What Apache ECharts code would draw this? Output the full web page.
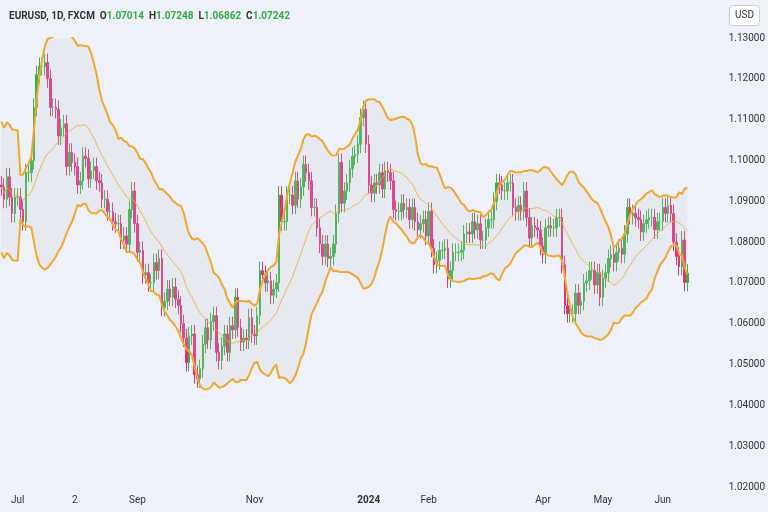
<!DOCTYPE html>
<html>
<head>
<meta charset="utf-8">
<script src="https://cdn.jsdelivr.net/npm/echarts@6/dist/echarts.min.js"></script>
<style>
    html, body {margin: 0; padding: 0; background: #eef1f8;}
    #chart {width: 768px; height: 512px;}
</style>
</head>
<body>
<div id="chart"></div>
<script>
// month blocks: [label shown on axis ('' = none), trading days]
const monthLabels = ['', 'Jul', '2', 'Sep', '', 'Nov', '', '2024', 'Feb', '', 'Apr', 'May', 'Jun'];
const monthDays = [6, 21, 23, 21, 22, 22, 20, 22, 21, 21, 22, 22, 10];

// daily closes
const closes = [
    1.0935, 1.0905, 1.0960, 1.0910, 1.0870, 1.0910,
    1.0910, 1.0880, 1.0850, 1.0970, 1.0970, 1.1000, 1.1130, 1.1210, 1.1230, 1.1230, 1.1240, 1.1200, 1.1130, 1.1130, 1.1125, 1.1060, 1.1080, 1.1090, 1.0985, 1.1020, 1.0995,
    1.0985, 1.0940, 1.0950, 1.1010, 1.1005, 1.0955, 1.0975, 1.0985, 1.0950, 1.0945, 1.0905, 1.0905, 1.0875, 1.0875, 1.0850, 1.0845, 1.0845, 1.0805, 1.0815, 1.0795, 1.0880, 1.0925, 1.0845,
    1.0775, 1.0780, 1.0720, 1.0725, 1.0700, 1.0700, 1.0750, 1.0730, 1.0760, 1.0640, 1.0655, 1.0685, 1.0665, 1.0690, 1.0660, 1.0645, 1.0600, 1.0565, 1.0505, 1.0570, 1.0575,
    1.0475, 1.0465, 1.0490, 1.0550, 1.0590, 1.0560, 1.0605, 1.0620, 1.0530, 1.0510, 1.0545, 1.0575, 1.0530, 1.0595, 1.0585, 1.0665, 1.0590, 1.0555, 1.0565, 1.0560, 1.0615, 1.0575,
    1.0570, 1.0620, 1.0730, 1.0720, 1.0700, 1.0705, 1.0670, 1.0685, 1.0700, 1.0915, 1.0850, 1.0850, 1.0915, 1.0915, 1.0890, 1.0950, 1.0905, 1.0935, 1.0990, 1.0970, 1.0950, 1.0885,
    1.0885, 1.0835, 1.0795, 1.0765, 1.0795, 1.0760, 1.0765, 1.0795, 1.0870, 1.0995, 1.0895, 1.0925, 1.0945, 1.0980, 1.1010, 1.1015, 1.1040, 1.1105, 1.1125, 1.1040,
    1.0940, 1.0920, 1.0945, 1.0940, 1.0970, 1.0930, 1.0975, 1.0970, 1.0950, 1.0880, 1.0875, 1.0875, 1.0895, 1.0880, 1.0885, 1.0855, 1.0885, 1.0850, 1.0830, 1.0845, 1.0855, 1.0815,
    1.0875, 1.0785, 1.0745, 1.0755, 1.0780, 1.0780, 1.0785, 1.0710, 1.0730, 1.0775, 1.0775, 1.0775, 1.0780, 1.0820, 1.0825, 1.0820, 1.0850, 1.0830, 1.0845, 1.0805, 1.0805,
    1.0835, 1.0855, 1.0855, 1.0900, 1.0945, 1.0940, 1.0925, 1.0925, 1.0945, 1.0945, 1.0885, 1.0875, 1.0890, 1.0875, 1.0925, 1.0860, 1.0810, 1.0840, 1.0835, 1.0830, 1.0790,
    1.0770, 1.0835, 1.0840, 1.0835, 1.0835, 1.0860, 1.0860, 1.0745, 1.0645, 1.0625, 1.0625, 1.0625, 1.0675, 1.0645, 1.0655, 1.0700, 1.0705, 1.0730, 1.0730, 1.0695, 1.0725, 1.0665,
    1.0710, 1.0725, 1.0760, 1.0770, 1.0750, 1.0775, 1.0785, 1.0770, 1.0820, 1.0885, 1.0865, 1.0870, 1.0860, 1.0855, 1.0825, 1.0845, 1.0855, 1.0860, 1.0860, 1.0830, 1.0850, 1.0850,
    1.0885, 1.0870, 1.0890, 1.0870, 1.0800, 1.0765, 1.0740, 1.0805, 1.0701, 1.0724
];
const firstOpen = 1.0940;
const wick = 0.0022;

const yTicks = [1.02, 1.13, 0.01];

// categories + axis label positions
const cats = [];
const labelAt = {};
monthDays.forEach(function (n, m) {
    for (let d = 0; d < n; d++) {
        if (d === 0 && monthLabels[m]) labelAt[cats.length] = monthLabels[m];
        cats.push(m + '-' + d);
    }
});

// candles: open = previous close
const candles = closes.map(function (c, i) {
    const o = i === 0 ? firstOpen : closes[i - 1];
    return [o, c, Math.min(o, c) - wick, Math.max(o, c) + wick];
});

// bollinger 20, 2
const mid = [], up = [], lo = [];
closes.forEach(function (c, i) {
    const w = closes.slice(Math.max(0, i - 19), i + 1);
    const m = w.reduce((a, b) => a + b, 0) / w.length;
    let sd = Math.sqrt(w.reduce((a, b) => a + (b - m) * (b - m), 0) / w.length);
    if (w.length < 8) sd = Math.max(sd, 0.008);
    mid.push(m); up.push(m + 2 * sd); lo.push(m - 2 * sd);
});
const band = up.map((u, i) => u - lo[i]);

const chart = echarts.init(document.getElementById('chart'));
chart.setOption({
    backgroundColor: '#eef1f8',
    animation: false,
    grid: {left: 0, right: 78, top: 38, bottom: 25},
    title: {
        text: '{a|EURUSD, 1D, FXCM  O}{g|1.07014}{a|  H}{g|1.07248}{a|  L}{g|1.06862}{a|  C}{g|1.07242}',
        left: 4, top: 6,
        textStyle: {
            rich: {
                a: {fontSize: 10, color: '#333', fontFamily: 'Roboto'},
                g: {fontSize: 10, color: '#35a84a', fontFamily: 'Roboto'}
            }
        }
    },
    graphic: [{
        type: 'group', right: 8, top: 5,
        children: [
            {type: 'rect', shape: {x: 0, y: 0, width: 30, height: 20, r: 3}, style: {fill: '#fff', stroke: '#c8ccd6'}},
            {type: 'text', style: {x: 15, y: 10, text: 'USD', fontSize: 10, fill: '#333', align: 'center', verticalAlign: 'middle', fontFamily: 'Roboto'}}
        ]
    }],
    xAxis: {
        type: 'category', data: cats, boundaryGap: true,
        axisLine: {show: false}, axisTick: {show: false}, splitLine: {show: false},
        axisLabel: {
            interval: function (i) { return labelAt[i] !== undefined; },
            formatter: function (v, i) {
                const t = labelAt[i] || '';
                return t === '2024' ? '{b|2024}' : t;
            },
            color: '#333', fontSize: 10, fontFamily: 'Roboto',
            rich: {b: {fontWeight: 'bold', fontSize: 10, color: '#333', fontFamily: 'Roboto'}}
        }
    },
    yAxis: {
        type: 'value', position: 'right', scale: true,
        min: yTicks[0], max: yTicks[1], interval: yTicks[2],
        axisLine: {show: false}, axisTick: {show: false}, splitLine: {show: false},
        axisLabel: {
            formatter: v => v.toFixed(5), color: '#333', fontSize: 10,
            fontFamily: 'Roboto', margin: 40
        }
    },
    series: [
        {type: 'line', data: lo, stack: 'bb', symbol: 'none', lineStyle: {width: 0}, silent: true},
        {type: 'line', data: band, stack: 'bb', symbol: 'none', lineStyle: {width: 0},
            areaStyle: {color: 'rgba(200,200,210,0.25)'}, silent: true},
        {type: 'line', data: up, symbol: 'none', lineStyle: {color: '#f0a830', width: 2}},
        {type: 'line', data: lo, symbol: 'none', lineStyle: {color: '#f0a830', width: 2}},
        {type: 'line', data: mid, symbol: 'none', lineStyle: {color: '#f0a830', width: 0.8}},
        {
            type: 'candlestick', data: candles, barWidth: 2,
            itemStyle: {color: '#3cb04a', color0: '#e0307a', borderColor: '#3cb04a', borderColor0: '#e0307a', borderWidth: 1}
        }
    ]
});
</script>
</body>
</html>
